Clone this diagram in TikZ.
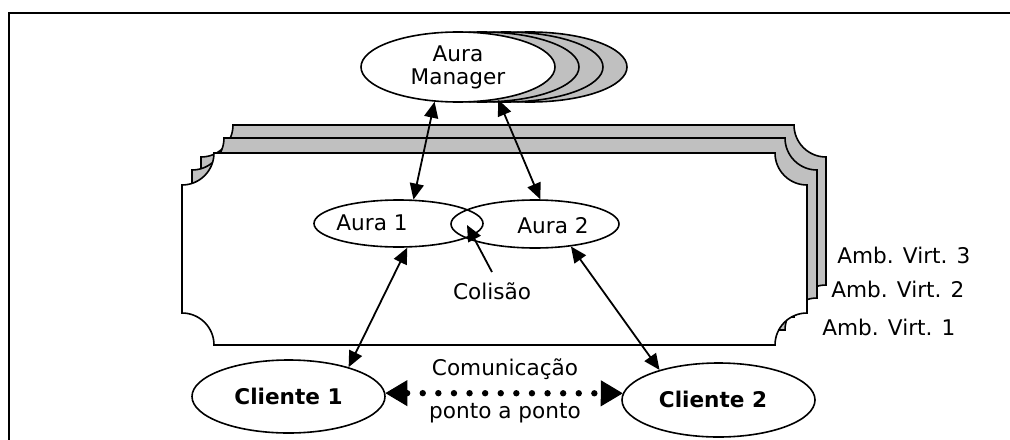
\documentclass[tikz,border=0pt]{standalone}
\usepackage{fontspec}
\setmainfont{DejaVu Sans}
\usetikzlibrary{shapes.geometric,arrows.meta}
\definecolor{shade}{HTML}{C0C0C0}

% plaque with concave (cut-out) corners: fill, left, top, right, bottom
\newcommand\plaqueoutline[5]{%
  \draw[plaque, fill=#1]
    (#2,#3+32) arc[start angle=270, end angle=360, radius=16pt]
    -- (#4-32,#3) arc[start angle=180, end angle=270, radius=16pt]
    -- (#4,#5-32) arc[start angle=90, end angle=180, radius=16pt]
    -- (#2+32,#5) arc[start angle=0, end angle=90, radius=16pt]
    -- cycle;}

\begin{document}
\begin{tikzpicture}[x=0.5pt, y=-0.5pt,
  every node/.style={font=\fontsize{10.8}{11.5}\selectfont},
  txt/.style={inner sep=0pt},
  plaque/.style={line width=0.8pt},
  bubble/.style={ellipse, draw, line width=0.8pt, inner sep=0pt},
  manager/.style={bubble, minimum width=97pt, minimum height=35pt},
  link/.style={line width=0.9pt, {Triangle[length=8pt, width=7pt]}-{Triangle[length=8pt, width=7pt]}},
  pointer/.style={line width=0.9pt, -{Triangle[length=8pt, width=7pt]}},
  peer/.style={line width=3.2pt, line cap=round, dash pattern=on 0pt off 7.8pt,
    {Triangle[length=11pt, width=13pt, line width=0.5pt]}-{Triangle[length=11pt, width=13pt, line width=0.5pt]}},
]
\useasboundingbox (0,0) rectangle (1010,439);

% frame
\draw[line width=1.2pt] (9,445) -- (9,13) -- (1016,13);

% stacked virtual environments
\plaqueoutline{shade}{201}{125}{826}{317}
\plaqueoutline{shade}{192}{138}{817}{330}
\plaqueoutline{white}{182}{153}{807}{345}

\node[txt, anchor=west] (v3) at (837,255) {Amb. Virt. 3};
\node[txt, anchor=west] (v2) at (831,289) {Amb. Virt. 2};
\node[txt, anchor=west] (v1) at (822,327) {Amb. Virt. 1};

% aura manager with its replicas
\node[manager, fill=shade] (am3) at (530,67) {};
\node[manager, fill=shade] (am2) at (506,67) {};
\node[manager, fill=shade] (am1) at (482,67) {};
\node[manager, fill=white, align=center] (am) at (458,67) {Aura\\Manager};

% auras
\node[bubble, minimum width=84.5pt, minimum height=23.5pt] (a1) at (398.5,223.5) {};
\node[bubble, minimum width=84pt, minimum height=24pt] (a2) at (535,224) {};
\node[txt] (a1t) at (372,223) {Aura 1};
\node[txt] (a2t) at (553,226) {Aura 2};

\coordinate (hit) at (467,225);
\node[txt] (col) at (492,291) {Colisão};

% clients
\node[bubble, minimum width=96.5pt, minimum height=36.5pt, font=\fontsize{10.8}{11.5}\selectfont\bfseries] (c1) at (288.5,396.5) {Cliente 1};
\node[bubble, minimum width=96.5pt, minimum height=37pt] (c2) at (718.5,400) {};
\node[txt, font=\fontsize{10.8}{11.5}\selectfont\bfseries] (c2t) at (713,399) {Cliente 2};

\node[txt] (pp1) at (505,369) {Comunicação};
\node[txt] (pp2) at (505,413) {ponto a ponto};

% connectors
\draw[link] (am.-124) -- (a1.58);
\draw[link] (am.-39) -- (a2.78);
\draw[link] (a1.-70) -- (c1.26);
\draw[link] (a2.-32) -- (c2.153);
\draw[pointer] ([yshift=5pt]col.north) -- (hit);
\draw[peer] (c1.2) -- (c2.176);
\end{tikzpicture}
\end{document}
